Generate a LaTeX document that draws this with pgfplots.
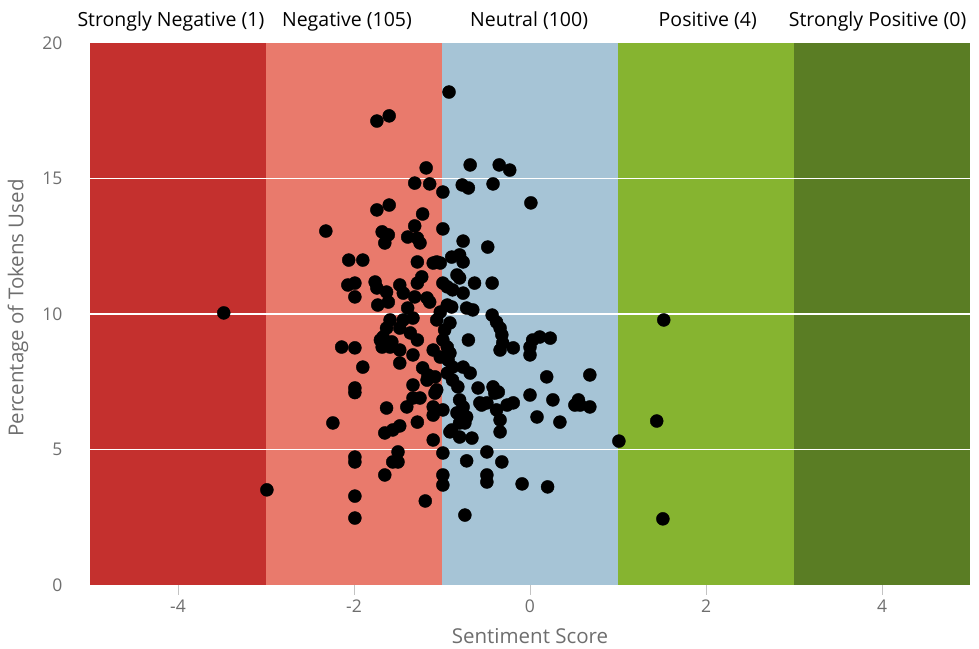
\documentclass[border=0pt]{standalone}
\usepackage{pgfplots}
\pgfplotsset{compat=1.18}
\usepackage{fontspec}
\setmainfont{Open Sans}
\definecolor{sneg}{RGB}{196,48,46}
\definecolor{neg}{RGB}{233,122,108}
\definecolor{neu}{RGB}{166,196,214}
\definecolor{pos}{RGB}{134,180,48}
\definecolor{spos}{RGB}{90,125,36}
\definecolor{labelgray}{RGB}{110,110,110}
\definecolor{tickgray}{RGB}{195,195,195}
\pgfplotstableread{
x y
-3.48 10.04
-2.99 3.51
-2.32 13.06
-2.24 5.98
-2.06 11.99
-1.90 11.99
-2.07 11.07
-1.99 11.14
-1.99 10.63
-2.14 8.78
-1.99 8.75
-1.90 8.04
-1.99 7.27
-1.99 7.10
-1.99 4.72
-1.99 4.54
-1.99 3.28
-1.99 2.47
-1.74 17.12
-1.60 17.31
-1.18 15.39
-0.92 18.19
-0.68 15.50
-0.35 15.50
-0.23 15.31
-1.31 14.83
-1.14 14.80
-0.99 14.50
-0.77 14.76
-0.70 14.65
-0.42 14.80
0.01 14.10
-1.74 13.84
-1.60 14.02
-1.22 13.69
-1.31 13.25
-0.99 13.14
-1.68 13.03
-1.61 12.92
-1.65 12.62
-1.39 12.84
-1.28 12.80
-1.25 12.62
-0.76 12.69
-0.48 12.47
-1.28 11.92
-1.10 11.88
-1.02 11.88
-0.89 12.10
-0.80 12.18
-0.76 11.92
-1.06 11.92
-1.76 11.18
-1.74 10.96
-1.63 10.81
-1.61 10.44
-1.48 11.07
-1.44 10.77
-1.28 11.14
-1.23 11.37
-1.17 10.59
-1.14 10.44
-1.73 10.33
-1.39 10.22
-1.31 10.63
-0.94 11.00
-0.88 10.89
-0.83 11.44
-0.80 11.33
-0.76 10.77
-0.63 11.14
-0.43 11.14
-0.99 11.14
-0.72 10.22
-0.65 10.15
-0.94 10.33
-0.89 10.26
-1.02 10.07
-1.06 9.78
-1.59 9.78
-1.44 9.78
-1.33 9.85
-0.43 9.96
-0.38 9.70
-0.34 9.48
-0.32 9.23
-1.63 9.48
-1.67 9.15
-1.48 9.48
-1.36 9.30
-1.70 9.04
-1.68 8.78
-1.59 8.78
-1.57 8.97
-1.28 9.04
-1.48 8.67
-1.48 8.19
-1.33 8.49
-1.10 8.67
-0.99 9.04
-0.94 8.78
-0.91 8.56
-0.93 8.30
-0.88 8.04
-1.02 8.41
-0.70 9.04
-0.91 9.67
-0.97 9.41
-0.31 8.93
-0.34 8.67
-0.19 8.75
0.00 8.78
0.03 9.04
0.00 8.49
0.11 9.15
0.23 9.11
-1.33 7.38
-1.22 8.01
-1.16 7.75
-1.17 7.56
-1.08 7.68
-1.06 7.20
-0.94 7.82
-0.88 7.56
-0.82 7.31
-0.76 8.04
-0.68 7.82
-0.59 7.27
-0.42 7.31
-0.36 7.12
0.00 7.01
0.19 7.68
0.26 6.83
0.68 7.75
0.55 6.83
0.57 6.64
0.68 6.57
-1.33 6.90
-1.25 6.90
-1.40 6.57
-1.10 6.57
-0.80 6.83
-0.76 6.57
-0.57 6.72
-0.49 6.72
-0.26 6.64
-0.19 6.72
-1.63 6.53
-0.99 6.46
-1.28 6.01
-1.65 5.61
-1.56 5.72
-1.48 5.87
-1.10 6.27
-0.83 6.35
-0.72 6.20
-0.74 5.98
-0.38 6.46
-0.34 6.09
-0.34 5.65
0.08 6.20
0.34 6.01
0.51 6.64
-0.91 5.65
-0.80 5.46
-0.66 5.42
-1.10 5.35
-0.99 4.87
-0.49 4.91
-0.72 4.58
-0.32 4.54
-1.50 4.91
-1.56 4.54
-1.50 4.54
-1.65 4.06
-0.99 4.06
-0.99 3.69
-0.49 4.06
-0.49 3.80
-0.09 3.73
0.20 3.62
-1.19 3.10
-0.74 2.58
1.01 5.31
1.44 6.05
1.52 9.78
1.51 2.44
-1.08 7.08
-0.77 6.38
-0.80 5.98
-0.89 5.72
-0.40 7.08
-0.55 6.64
}\pts
\begin{document}
\begin{tikzpicture}
\begin{axis}[
  scale only axis, width=880pt, height=542pt,
  xmin=-5, xmax=5, ymin=0, ymax=20,
  clip=false,
  xtick={-4,-2,0,2,4}, ytick={0,5,10,15,20},
  axis line style={draw=none},
  tick align=outside, xtick pos=bottom, ytick pos=left,
  major tick length=10pt,
  x tick style={color=tickgray, line width=0.8pt},
  y tick style={draw=none},
  ticklabel style={font=\fontsize{17.5}{20}\selectfont, text=labelgray},
  yticklabel style={anchor=east, xshift=-14pt},
  xticklabel style={yshift=-1pt},
  /pgf/number format/assume math mode=true,
  xlabel={Sentiment Score}, ylabel={Percentage of Tokens Used},
  label style={font=\fontsize{20.5}{24}\selectfont, text=labelgray},
  xlabel style={at={(rel axis cs:0.5,0)}, anchor=center, yshift=-51pt},
  ylabel style={at={(rel axis cs:-0.0818,0.511)}, anchor=center},
]
\addplot[draw=none, fill=sneg] coordinates {(-5,20) (-3,20)} \closedcycle;
\addplot[draw=none, fill=neg] coordinates {(-3,20) (-1,20)} \closedcycle;
\addplot[draw=none, fill=neu] coordinates {(-1,20) (1,20)} \closedcycle;
\addplot[draw=none, fill=pos] coordinates {(1,20) (3,20)} \closedcycle;
\addplot[draw=none, fill=spos] coordinates {(3,20) (5,20)} \closedcycle;
\addplot[white, line width=1.5pt] coordinates {(-5,5) (5,5)};
\addplot[white, line width=1.5pt] coordinates {(-5,10) (5,10)};
\addplot[white, line width=1.5pt] coordinates {(-5,15) (5,15)};
\addplot[only marks, mark=*, mark size=6.5pt, black] table[x=x,y=y] {\pts};
\begin{scope}[every node/.style={anchor=base, font=\fontsize{19.5}{22}\selectfont, text=black, yshift=16pt, inner sep=0pt}]
\node at (axis cs:-4.08,20) {Strongly Negative (1)};
\node at (axis cs:-2.08,20) {Negative (105)};
\node at (axis cs:-0.01,20) {Neutral (100)};
\node at (axis cs:2.02,20) {Positive (4)};
\node at (axis cs:3.95,20) {Strongly Positive (0)};
\end{scope}
\coordinate (bl) at (rel axis cs:0,0);
\coordinate (tr) at (rel axis cs:1,1);
\end{axis}
\pgfresetboundingbox
\path ([xshift=-90pt,yshift=-64pt]bl) rectangle ([xshift=9pt,yshift=43pt]tr);
\end{tikzpicture}
\end{document}
